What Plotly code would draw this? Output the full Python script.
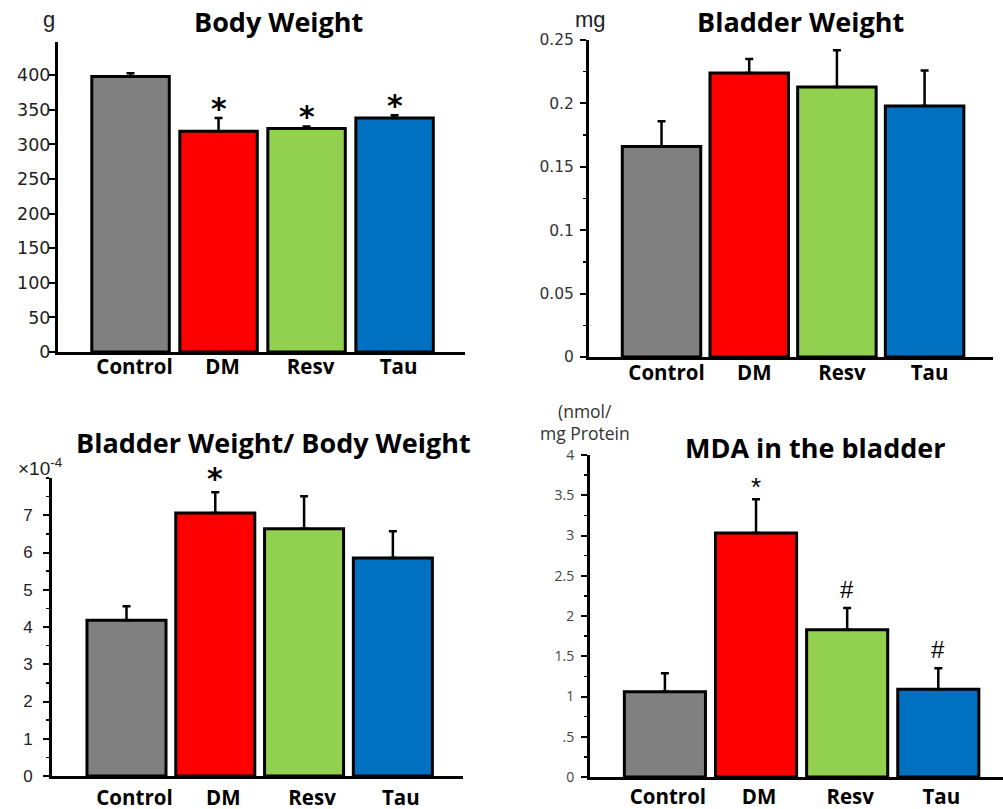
import plotly.graph_objects as go

W, H = 1003, 809

categories = ["Control", "DM", "Resv", "Tau"]
colors = ["#808080", "#FF0000", "#92D050", "#0070C0"]

body_weight = [398, 319, 323, 338]
body_weight_err = [5, 19, 3, 4]
body_weight_marks = ["", "*", "*", "*"]

bladder_weight = [0.166, 0.224, 0.213, 0.198]
bladder_weight_err = [0.020, 0.011, 0.029, 0.028]
bladder_weight_marks = ["", "", "", ""]

ratio = [4.18, 7.06, 6.64, 5.85]          # x 10^-4
ratio_err = [0.38, 0.56, 0.87, 0.72]
ratio_marks = ["", "*", "", ""]

mda = [1.06, 3.03, 1.83, 1.09]
mda_err = [0.23, 0.42, 0.27, 0.26]
mda_marks = ["", "*", "#", "#"]

bw_ticks = [0, 50, 100, 150, 200, 250, 300, 350, 400]
bl_ticks = [0, 0.05, 0.1, 0.15, 0.2, 0.25]
bl_ticktext = ["0", "0.05", "0.1", "0.15", "0.2", "0.25"]
ratio_ticks = [0, 1, 2, 3, 4, 5, 6, 7]
mda_ticks = [0, 0.5, 1, 1.5, 2, 2.5, 3, 3.5, 4]
mda_ticktext = ["0", ".5", "1", "1.5", "2", "2.5", "3", "3.5", "4"]


def px(xp):
    return xp / W


def py(yp):
    return 1 - yp / H


panels = [
    dict(vals=body_weight, err=body_weight_err, marks=body_weight_marks,
         xdom=(58, 465), ydom=(42, 352), yr=[0, 448], xr=[-0.824, 3.80],
         tickvals=bw_ticks, ticktext=[str(t) for t in bw_ticks], dtick_minor=None,
         width=0.88, tfamily="DejaVu Sans, sans-serif", tfont=17.5, tcolor="#222222",
         ystand=-5, shift=4, standoff=-6,
         mfamily="DejaVu Sans, sans-serif", mfont=30, mbold=True, mshift=-10),
    dict(vals=bladder_weight, err=bladder_weight_err, marks=bladder_weight_marks,
         xdom=(589, 993), ydom=(40, 357), yr=[0, 0.25], xr=[-0.827, 3.78],
         tickvals=bl_ticks, ticktext=bl_ticktext, dtick_minor=0.025,
         width=0.895, tfamily="DejaVu Sans, sans-serif", tfont=15.5, tcolor="#333333",
         ystand=3, shift=5, standoff=-5,
         mfamily="DejaVu Sans, sans-serif", mfont=30, mbold=True, mshift=-10),
    dict(vals=ratio, err=ratio_err, marks=ratio_marks,
         xdom=(52, 463), ydom=(478, 776), yr=[0, 8], xr=[-0.839, 3.79],
         tickvals=ratio_ticks, ticktext=[str(t) for t in ratio_ticks], dtick_minor=0.5,
         width=0.89, tfamily="Liberation Sans, Arial, sans-serif", tfont=17, tcolor="#222222",
         ystand=7, shift=8, standoff=1,
         mfamily="DejaVu Sans, sans-serif", mfont=30, mbold=True, mshift=-6),
    dict(vals=mda, err=mda_err, marks=mda_marks,
         xdom=(590, 1003), ydom=(455, 777), yr=[0, 4], xr=[-0.822, 3.71],
         tickvals=mda_ticks, ticktext=mda_ticktext, dtick_minor=0.25,
         width=0.89, tfamily="Open Sans, sans-serif", tfont=14, tcolor="#444444",
         ystand=4, shift=3, standoff=-1,
         mfamily="Liberation Sans, Arial, sans-serif", mfont=26, mbold=False, mshift=-5),
]

fig = go.Figure()
annotations = []

for i, p in enumerate(panels, start=1):
    xa = "x" if i == 1 else f"x{i}"
    ya = "y" if i == 1 else f"y{i}"
    fig.add_trace(go.Bar(
        x=categories, y=p["vals"], width=p["width"],
        marker=dict(color=colors, line=dict(color="black", width=3)),
        error_y=dict(type="data", symmetric=False, array=p["err"],
                     arrayminus=[0] * len(p["err"]), color="black",
                     thickness=2.5, width=4),
        xaxis=xa, yaxis=ya, showlegend=False, hoverinfo="skip",
    ))
    xkey = "xaxis" if i == 1 else f"xaxis{i}"
    ykey = "yaxis" if i == 1 else f"yaxis{i}"
    yaxis = dict(
        domain=[py(p["ydom"][1]), py(p["ydom"][0])], range=p["yr"],
        anchor=xa, showline=True, linewidth=3, linecolor="black",
        ticks="outside", ticklen=6, tickwidth=2, tickcolor="black",
        tickvals=p["tickvals"], ticktext=p["ticktext"],
        tickfont=dict(family=p["tfamily"], size=p["tfont"], color=p["tcolor"]),
        ticklabelstandoff=p["ystand"], showgrid=False, zeroline=False,
        fixedrange=True, automargin=False,
    )
    if p["dtick_minor"]:
        yaxis["minor"] = dict(dtick=p["dtick_minor"], ticks="outside", ticklen=3,
                              tickwidth=1.5, tickcolor="black", showgrid=False)
    fig.update_layout({
        xkey: dict(
            domain=[px(p["xdom"][0]), px(p["xdom"][1])], range=p["xr"],
            anchor=ya, type="category", categoryorder="array",
            categoryarray=categories, showline=True, linewidth=3,
            linecolor="black", ticks="", ticklen=0, showgrid=False, zeroline=False,
            tickfont=dict(family="Open Sans, sans-serif", size=20.5, color="black",
                          weight="bold"),
            ticklabelstandoff=p["standoff"], ticklabelshift=p["shift"],
            fixedrange=True, automargin=False,
        ),
        ykey: yaxis,
    })
    for c, v, e, m in zip(categories, p["vals"], p["err"], p["marks"]):
        if m:
            annotations.append(dict(
                x=c, y=v + e, xref=xa, yref=ya, text=m, showarrow=False,
                yanchor="bottom", yshift=p["mshift"] if m == "*" else 3,
                font=dict(family=p["mfamily"], size=p["mfont"] if m == "*" else 24,
                          color="black",
                          weight="bold" if p["mbold"] else "normal"),
            ))

title_font = dict(family="Open Sans, sans-serif", size=27, color="black", weight="bold")
unit_font = dict(family="Liberation Sans, Arial, sans-serif", size=22, color="#222")
small_font = dict(family="Open Sans, sans-serif", size=17.5, color="#333")
texts = [
    ("Body Weight", 278, 22, title_font),
    ("Bladder Weight", 800, 22, title_font),
    ("Bladder Weight/ Body Weight", 273, 442, title_font),
    ("MDA in the bladder", 815, 447, title_font),
    ("g", 49, 20, unit_font),
    ("mg", 590, 20, unit_font),
    ("×10<sup>-4</sup>", 40, 467, dict(family="Liberation Sans, Arial, sans-serif", size=19, color="#222")),
    ("(nmol/", 585, 411, small_font),
    ("mg Protein", 585, 433, small_font),
]
for t, x, y, f in texts:
    annotations.append(dict(text=t, x=px(x), y=py(y), xref="paper", yref="paper",
                            xanchor="center", yanchor="middle", showarrow=False, font=f))

fig.update_layout(
    template="none",
    width=W, height=H, margin=dict(l=0, r=0, t=0, b=0, autoexpand=False),
    paper_bgcolor="white", plot_bgcolor="white",
    annotations=annotations, bargap=0, hovermode=False,
)

fig.write_html("out.html", config={"displayModeBar": False, "staticPlot": True},
               post_script="document.body.style.margin='0px';")
